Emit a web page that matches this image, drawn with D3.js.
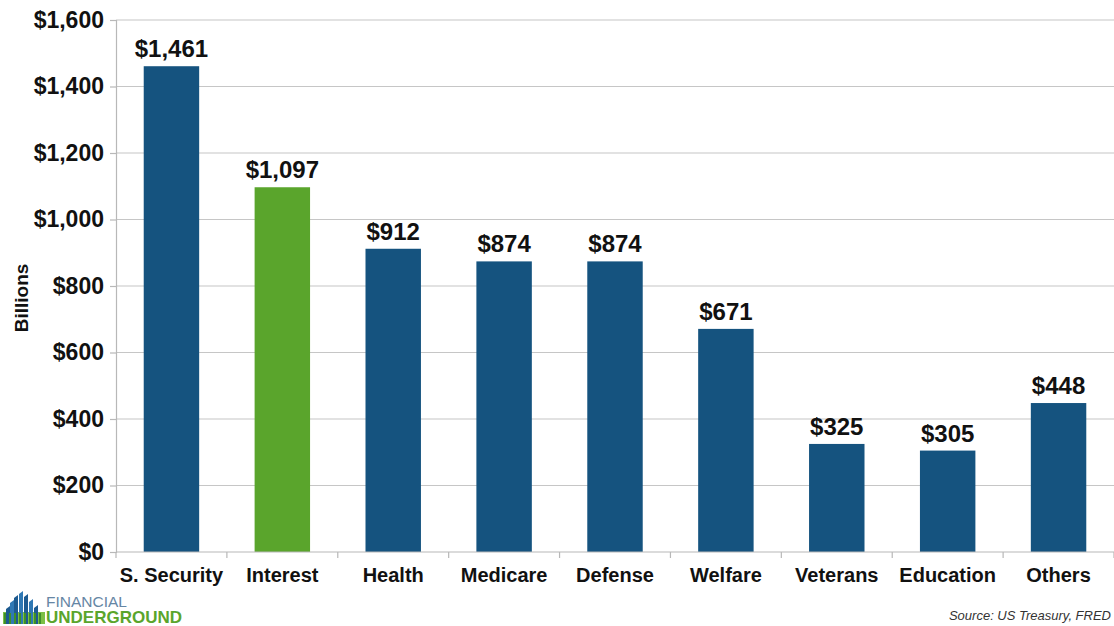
<!DOCTYPE html>
<html>
<head>
<meta charset="utf-8">
<script src="https://cdn.jsdelivr.net/npm/d3@7"></script>
<style>
  html, body { margin: 0; padding: 0; background: #ffffff; }
  svg { display: block; }
</style>
</head>
<body>
<svg id="chart" width="1114" height="626"></svg>
<script>
// Federal spending by category (billions of dollars)
const categories = ["S. Security", "Interest", "Health", "Medicare", "Defense", "Welfare", "Veterans", "Education", "Others"];
const spending = [1461, 1097, 912, 874, 874, 671, 325, 305, 448];
const highlighted = ["Interest"];
const yTicks = [0, 200, 400, 600, 800, 1000, 1200, 1400, 1600];

const W = 1114, H = 626;
const margin = { top: 20, right: 0, bottom: 74, left: 116 };
const svg = d3.select("#chart");
const font = "'Liberation Sans', Arial, sans-serif";

const x = d3.scaleBand().domain(categories).range([margin.left, W - margin.right]).paddingInner(0.5).paddingOuter(0.25);
const y = d3.scaleLinear().domain([0, 1600]).range([H - margin.bottom, margin.top]);

const fmt = v => "$" + d3.format(",")(v);

// horizontal gridlines
svg.append("g").selectAll("line").data(yTicks.filter(t => t > 0)).join("line")
  .attr("x1", margin.left).attr("x2", W)
  .attr("y1", d => y(d)).attr("y2", d => y(d))
  .attr("stroke", "#c6c6c6").attr("stroke-width", 1.2);

// y axis
const yAxis = svg.append("g")
  .attr("transform", `translate(${margin.left},0)`)
  .call(d3.axisLeft(y).tickValues(yTicks).tickFormat(fmt).tickSize(6).tickPadding(6));
yAxis.select(".domain").attr("stroke", "#b8b8b8").attr("stroke-width", 1.2);
yAxis.selectAll(".tick line").attr("stroke", "#b8b8b8").attr("stroke-width", 1.2);
yAxis.selectAll(".tick text")
  .attr("font-family", font).attr("font-weight", "bold").attr("font-size", 23).attr("fill", "#111");

// bars
svg.append("g").selectAll("rect").data(categories).join("rect")
  .attr("x", d => x(d))
  .attr("width", x.bandwidth())
  .attr("y", (d, i) => y(spending[i]))
  .attr("height", (d, i) => y(0) - y(spending[i]))
  .attr("fill", d => highlighted.includes(d) ? "#5aa52c" : "#15537f");

// x axis baseline with ticks at category boundaries
const step = x.step();
const boundaries = d3.range(categories.length + 1).map(i => margin.left + i * step);
svg.append("line")
  .attr("x1", margin.left).attr("x2", W)
  .attr("y1", y(0)).attr("y2", y(0))
  .attr("stroke", "#b8b8b8").attr("stroke-width", 1.2);
svg.append("g").selectAll("line").data(boundaries).join("line")
  .attr("x1", d => d).attr("x2", d => d)
  .attr("y1", y(0)).attr("y2", y(0) + 6)
  .attr("stroke", "#b8b8b8").attr("stroke-width", 1.2);

// category labels
svg.append("g").selectAll("text").data(categories).join("text")
  .attr("x", d => x(d) + x.bandwidth() / 2)
  .attr("y", y(0) + 30)
  .attr("text-anchor", "middle")
  .attr("font-family", font).attr("font-weight", "bold").attr("font-size", 20).attr("fill", "#111")
  .text(d => d);

// value labels
svg.append("g").selectAll("text").data(categories).join("text")
  .attr("x", d => x(d) + x.bandwidth() / 2)
  .attr("y", (d, i) => y(spending[i]) - 9)
  .attr("text-anchor", "middle")
  .attr("font-family", font).attr("font-weight", "bold").attr("font-size", 24).attr("fill", "#111")
  .text((d, i) => fmt(spending[i]));

// y axis title
svg.append("text")
  .attr("transform", `translate(28,298) rotate(-90)`)
  .attr("text-anchor", "middle")
  .attr("font-family", font).attr("font-weight", "bold").attr("font-size", 19).attr("fill", "#111")
  .text("Billions");

// source note
svg.append("text")
  .attr("x", 1111).attr("y", 620)
  .attr("text-anchor", "end")
  .attr("font-family", font).attr("font-style", "italic").attr("font-size", 13).attr("fill", "#333")
  .text("Source: US Treasury, FRED");

// logo: skyline mark plus wordmark
const logo = svg.append("g");
logo.append("rect").attr("x", 3).attr("y", 612).attr("width", 42).attr("height", 12).attr("fill", "#7cbf45");
const towers = [
  { x: 6, top: 606 }, { x: 10, top: 600 }, { x: 14, top: 595 }, { x: 19, top: 591 },
  { x: 24, top: 594 }, { x: 29, top: 599 }, { x: 34, top: 605 }
];
logo.selectAll("path.tower").data(towers).join("path")
  .attr("class", "tower")
  .attr("d", d => `M${d.x},624 L${d.x},${d.top + 3} L${d.x + 4},${d.top} L${d.x + 4},624 Z`)
  .attr("fill", (d, i) => i % 2 ? "#2f78b4" : "#1d5a90");
logo.selectAll("rect.stripe").data(d3.range(8)).join("rect")
  .attr("class", "stripe")
  .attr("x", d => 4 + d * 5)
  .attr("y", 613)
  .attr("width", 2)
  .attr("height", 11)
  .attr("fill", "#3f8f2a");
logo.append("text")
  .attr("x", 46).attr("y", 607)
  .attr("font-family", font).attr("font-size", 15.5).attr("fill", "#6686a4")
  .text("FINANCIAL");
logo.append("text")
  .attr("x", 46).attr("y", 623)
  .attr("font-family", font).attr("font-weight", "bold").attr("font-size", 17).attr("fill", "#5aa52c")
  .text("UNDERGROUND");
</script>
</body>
</html>
